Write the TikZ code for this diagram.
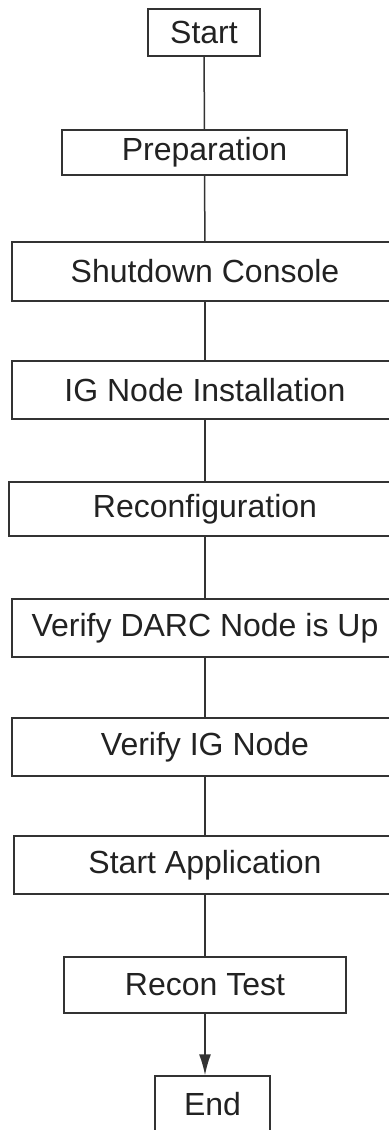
\documentclass[tikz,border=0pt]{standalone}
\usepackage{fontspec}
\setmainfont{Liberation Sans}
\usepackage{xcolor}
\usepackage{tikz}
\usetikzlibrary{arrows.meta,positioning}

\definecolor{boxline}{HTML}{333333}
\definecolor{boxtext}{HTML}{222222}

\tikzset{
    stepbox/.style={
        draw=boxline,
        line width=0.75pt,
        inner sep=0pt,
        text=boxtext,
        font=\fontsize{16}{19}\selectfont
    },
    flowline/.style={
        draw=boxline,
        line width=0.75pt
    }
}

\begin{document}
\begin{tikzpicture}[x=0.5pt,y=-0.5pt]
                \useasboundingbox (0,0) rectangle (388,1130);

                % steps
                \node[stepbox, minimum width=56pt, minimum height=23.5pt] (start) at (204,32.5) {Start};
                \node[stepbox, minimum width=142.5pt, minimum height=22.5pt] (prep) at (204.5,152.5) {Preparation};
                \node[stepbox, minimum width=193pt, minimum height=29.5pt] (shutdown) at (205,271.5) {Shutdown Console};
                \node[stepbox, minimum width=193pt, minimum height=29pt] (install) at (205,390) {IG Node Installation};
                \node[stepbox, minimum width=196pt, minimum height=27pt] (reconf) at (205,509) {Reconfiguration};
                \node[stepbox, minimum width=193pt, minimum height=29pt] (darc) at (205,628) {Verify DARC Node is Up};
                \node[stepbox, minimum width=193pt, minimum height=29pt] (verify) at (205,747) {Verify IG Node};
                \node[stepbox, minimum width=191pt, minimum height=29pt] (app) at (205,865) {Start Application};
                \node[stepbox, minimum width=141pt, minimum height=28pt] (test) at (205,985) {Recon Test};
                \node[stepbox, minimum width=57.5pt, minimum height=28pt] (end) at (212.5,1104) {End};

                % connectors
                \draw[flowline] (start) -- (prep);
                \draw[flowline] (prep) -- (shutdown);
                \draw[flowline] (shutdown) -- (install);
                \draw[flowline] (install) -- (reconf);
                \draw[flowline] (reconf) -- (darc);
                \draw[flowline] (darc) -- (verify);
                \draw[flowline] (verify) -- (app);
                \draw[flowline] (app) -- (test);
                \draw[
                    flowline,
                    -{Latex[length=10.5pt,width=6pt]}
                    ] (test.south) -- (test.south |- end.north);
\end{tikzpicture}
\end{document}
